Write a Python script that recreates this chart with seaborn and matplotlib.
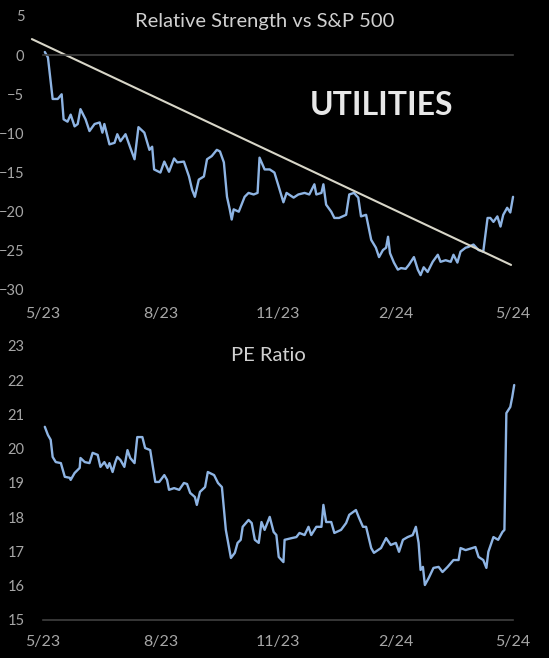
import matplotlib
matplotlib.use("Agg")
import matplotlib.pyplot as plt
import seaborn as sns

# ----------------------------
# Data (x = months since 5/23)
# ----------------------------
rs_month = [0.05, 0.13, 0.25, 0.38, 0.48, 0.53, 0.63, 0.71, 0.81, 0.89, 0.96, 1.09, 1.19, 1.32,
            1.45, 1.52, 1.57, 1.70, 1.83, 1.90, 1.98, 2.11, 2.23, 2.34, 2.44, 2.59, 2.72, 2.79,
            2.84, 3.00, 3.10, 3.22, 3.35, 3.43, 3.60, 3.73, 3.81, 3.88, 3.98, 4.11, 4.19, 4.31,
            4.44, 4.52, 4.62, 4.70, 4.77, 4.82, 4.87, 5.00, 5.15, 5.25, 5.38, 5.48, 5.53, 5.66,
            5.79, 5.91, 6.02, 6.14, 6.22, 6.40, 6.52, 6.68, 6.80, 6.93, 6.98, 7.11, 7.16, 7.23,
            7.36, 7.44, 7.56, 7.74, 7.82, 7.94, 8.05, 8.12, 8.25, 8.38, 8.50, 8.58, 8.68, 8.76,
            8.81, 8.86, 8.96, 9.06, 9.14, 9.26, 9.34, 9.47, 9.57, 9.64, 9.72, 9.82, 9.95, 10.08,
            10.15, 10.28, 10.41, 10.48, 10.58, 10.66, 10.79, 10.86, 10.99, 11.12, 11.24, 11.35,
            11.42, 11.50, 11.60, 11.68, 11.75, 11.85, 11.93, 12.0]
rs_value = [0.4, -0.3, -5.6, -5.6, -5.0, -8.2, -8.5, -7.6, -9.1, -8.8, -6.9, -8.2, -9.7, -8.8,
            -8.6, -9.9, -8.8, -11.4, -11.2, -10.1, -11.0, -10.1, -11.8, -13.3, -9.2, -9.9, -12.1, -11.7,
            -14.6, -15.0, -13.6, -14.9, -13.2, -13.7, -13.6, -15.5, -17.2, -18.1, -15.9, -15.5, -13.3, -12.9,
            -12.1, -12.3, -13.7, -18.1, -19.7, -21.0, -19.7, -20.0, -18.1, -17.6, -17.8, -17.6, -13.1, -14.6,
            -14.6, -15.0, -16.8, -18.8, -17.6, -18.2, -17.8, -17.6, -17.8, -16.5, -17.8, -17.6, -16.5, -19.1,
            -20.0, -20.8, -20.8, -20.4, -17.8, -17.6, -18.2, -20.6, -20.4, -23.6, -24.6, -25.8, -24.9, -24.6,
            -23.2, -25.3, -26.5, -27.4, -27.2, -27.3, -26.8, -25.8, -27.4, -28.1, -27.1, -27.7, -26.4, -25.5,
            -26.4, -26.2, -26.4, -25.5, -26.5, -25.1, -24.6, -24.5, -24.2, -24.9, -25.1, -20.8,
            -20.8, -21.3, -20.6, -21.9, -20.4, -19.5, -20.1, -18.1]

trend_month = [-0.28, 11.95]
trend_value = [2.05, -26.8]

pe_month = [0.05, 0.13, 0.20, 0.25, 0.33, 0.46, 0.56, 0.69, 0.71, 0.81, 0.94, 0.96, 1.07, 1.19,
            1.27, 1.40, 1.47, 1.57, 1.65, 1.70, 1.78, 1.85, 1.90, 1.98, 2.08, 2.16, 2.23, 2.34,
            2.41, 2.54, 2.61, 2.74, 2.87, 2.97, 3.10, 3.17, 3.22, 3.35, 3.48, 3.60, 3.68, 3.76,
            3.88, 3.93, 4.01, 4.14, 4.21, 4.37, 4.47, 4.57, 4.67, 4.80, 4.90, 4.97, 5.05, 5.10,
            5.25, 5.33, 5.41, 5.51, 5.58, 5.66, 5.79, 5.89, 5.96, 6.02, 6.14, 6.17, 6.35, 6.47,
            6.55, 6.68, 6.78, 6.85, 6.98, 7.11, 7.16, 7.23, 7.36, 7.44, 7.61, 7.74, 7.82, 7.99,
            8.07, 8.17, 8.25, 8.38, 8.45, 8.63, 8.76, 8.88, 9.01, 9.09, 9.19, 9.31, 9.44, 9.52,
            9.59, 9.64, 9.70, 9.75, 9.85, 9.97, 10.10, 10.20, 10.33, 10.48, 10.61, 10.66, 10.79,
            10.96, 11.04, 11.12, 11.24, 11.32, 11.37, 11.50, 11.62, 11.73, 11.78, 11.83, 11.93,
            11.98, 12.03]
pe_value = [20.64, 20.40, 20.26, 19.76, 19.61, 19.58, 19.18, 19.15, 19.09, 19.29, 19.44, 19.73, 19.61, 19.58,
            19.88, 19.82, 19.47, 19.61, 19.44, 19.58, 19.32, 19.61, 19.76, 19.67, 19.47, 19.96, 19.73, 19.58,
            20.34, 20.34, 20.02, 19.96, 19.03, 19.03, 19.23, 19.09, 18.80, 18.85, 18.80, 19.00, 18.97, 18.71,
            18.59, 18.36, 18.74, 18.88, 19.32, 19.23, 19.00, 18.88, 17.63, 16.81, 16.96, 17.25, 17.34, 17.72,
            17.92, 17.83, 17.34, 17.25, 17.86, 17.63, 18.01, 17.57, 17.48, 16.84, 16.69, 17.34, 17.39, 17.42,
            17.54, 17.48, 17.72, 17.48, 17.72, 17.72, 18.36, 17.86, 17.86, 17.54, 17.63, 17.83, 18.07, 18.21,
            17.98, 17.72, 17.72, 17.10, 16.96, 17.10, 17.39, 17.19, 17.25, 16.99, 17.34, 17.42, 17.48, 17.72,
            17.25, 16.46, 16.55, 16.02, 16.23, 16.52, 16.55, 16.40, 16.55, 16.75, 16.75, 17.10, 17.04,
            17.10, 17.13, 16.84, 16.75, 16.52, 16.99, 17.42, 17.34, 17.57, 17.63, 21.04, 21.22,
            21.51, 21.86]

month_ticks = [0, 3, 6, 9, 12]
month_labels = ["5/23", "8/23", "11/23", "2/24", "5/24"]
rs_ticks = [5, 0, -5, -10, -15, -20, -25, -30]
pe_ticks = [23, 22, 21, 20, 19, 18, 17, 16, 15]

# ----------------------------
# Style
# ----------------------------
sns.set_style("dark")
plt.rcParams["font.family"] = ["Lato", "DejaVu Sans"]

BG = "black"
LINE = "#8EB4E3"
TREND = "#D8D6C8"
TXT = "#A6A6A6"
AXIS = "#404040"

fig = plt.figure(figsize=(5.49, 6.58), dpi=100, facecolor=BG)
ax1 = fig.add_axes([0.0495, 0.5593, 0.9064, 0.4164])
ax2 = fig.add_axes([0.0495, 0.0578, 0.9064, 0.4164])

for ax in (ax1, ax2):
    ax.set_facecolor(BG)
    ax.grid(False)
    for s in ["top", "right", "left"]:
        ax.spines[s].set_visible(False)
    ax.spines["bottom"].set_color(AXIS)
    ax.spines["bottom"].set_linewidth(1.2)
    ax.spines["bottom"].set_bounds(0, 12)
    ax.set_xlim(-0.4, 12.3)
    ax.set_xticks(month_ticks)
    ax.tick_params(axis="x", colors=AXIS, direction="out", length=3, width=1.2,
                   labelcolor=TXT, labelsize=11.5)
    ax.tick_params(axis="y", length=0, pad=2, labelcolor=TXT, labelsize=10.5)
    ax.set_xlabel("")
    ax.set_ylabel("")

# ----------------------------
# Top: Relative Strength
# ----------------------------
sns.lineplot(x=rs_month, y=rs_value, ax=ax1, color=LINE, linewidth=1.7)
sns.lineplot(x=trend_month, y=trend_value, ax=ax1, color=TREND, linewidth=1.5)
ax1.set_ylim(-30, 5)
ax1.set_yticks(rs_ticks)
ax1.spines["bottom"].set_position(("data", 0))
ax1.tick_params(axis="x", labelbottom=False)
sec = ax1.secondary_xaxis("bottom")
sec.set_xticks(month_ticks)
sec.set_xticklabels(month_labels)
sec.spines["bottom"].set_visible(False)
sec.tick_params(length=0, pad=12, labelcolor=TXT, labelsize=11.5)
ax1.text(0.477, 0.98, "Relative Strength vs S&P 500", transform=ax1.transAxes,
         ha="center", va="center", color="#D0D0D0", fontsize=14.5)
ax1.text(0.712, 0.672, "UTILITIES", transform=ax1.transAxes, ha="center", va="center",
         color="#E8E8E8", fontsize=23, fontweight="bold")

# ----------------------------
# Bottom: PE Ratio
# ----------------------------
sns.lineplot(x=pe_month, y=pe_value, ax=ax2, color=LINE, linewidth=1.7)
ax2.set_ylim(15, 23)
ax2.set_yticks(pe_ticks)
ax2.set_xticklabels(month_labels)
ax2.tick_params(axis="x", pad=8)
ax2.text(0.485, 0.965, "PE Ratio", transform=ax2.transAxes,
         ha="center", va="center", color="#D0D0D0", fontsize=14.5)

fig.savefig("out.png", dpi=100, facecolor=BG)
